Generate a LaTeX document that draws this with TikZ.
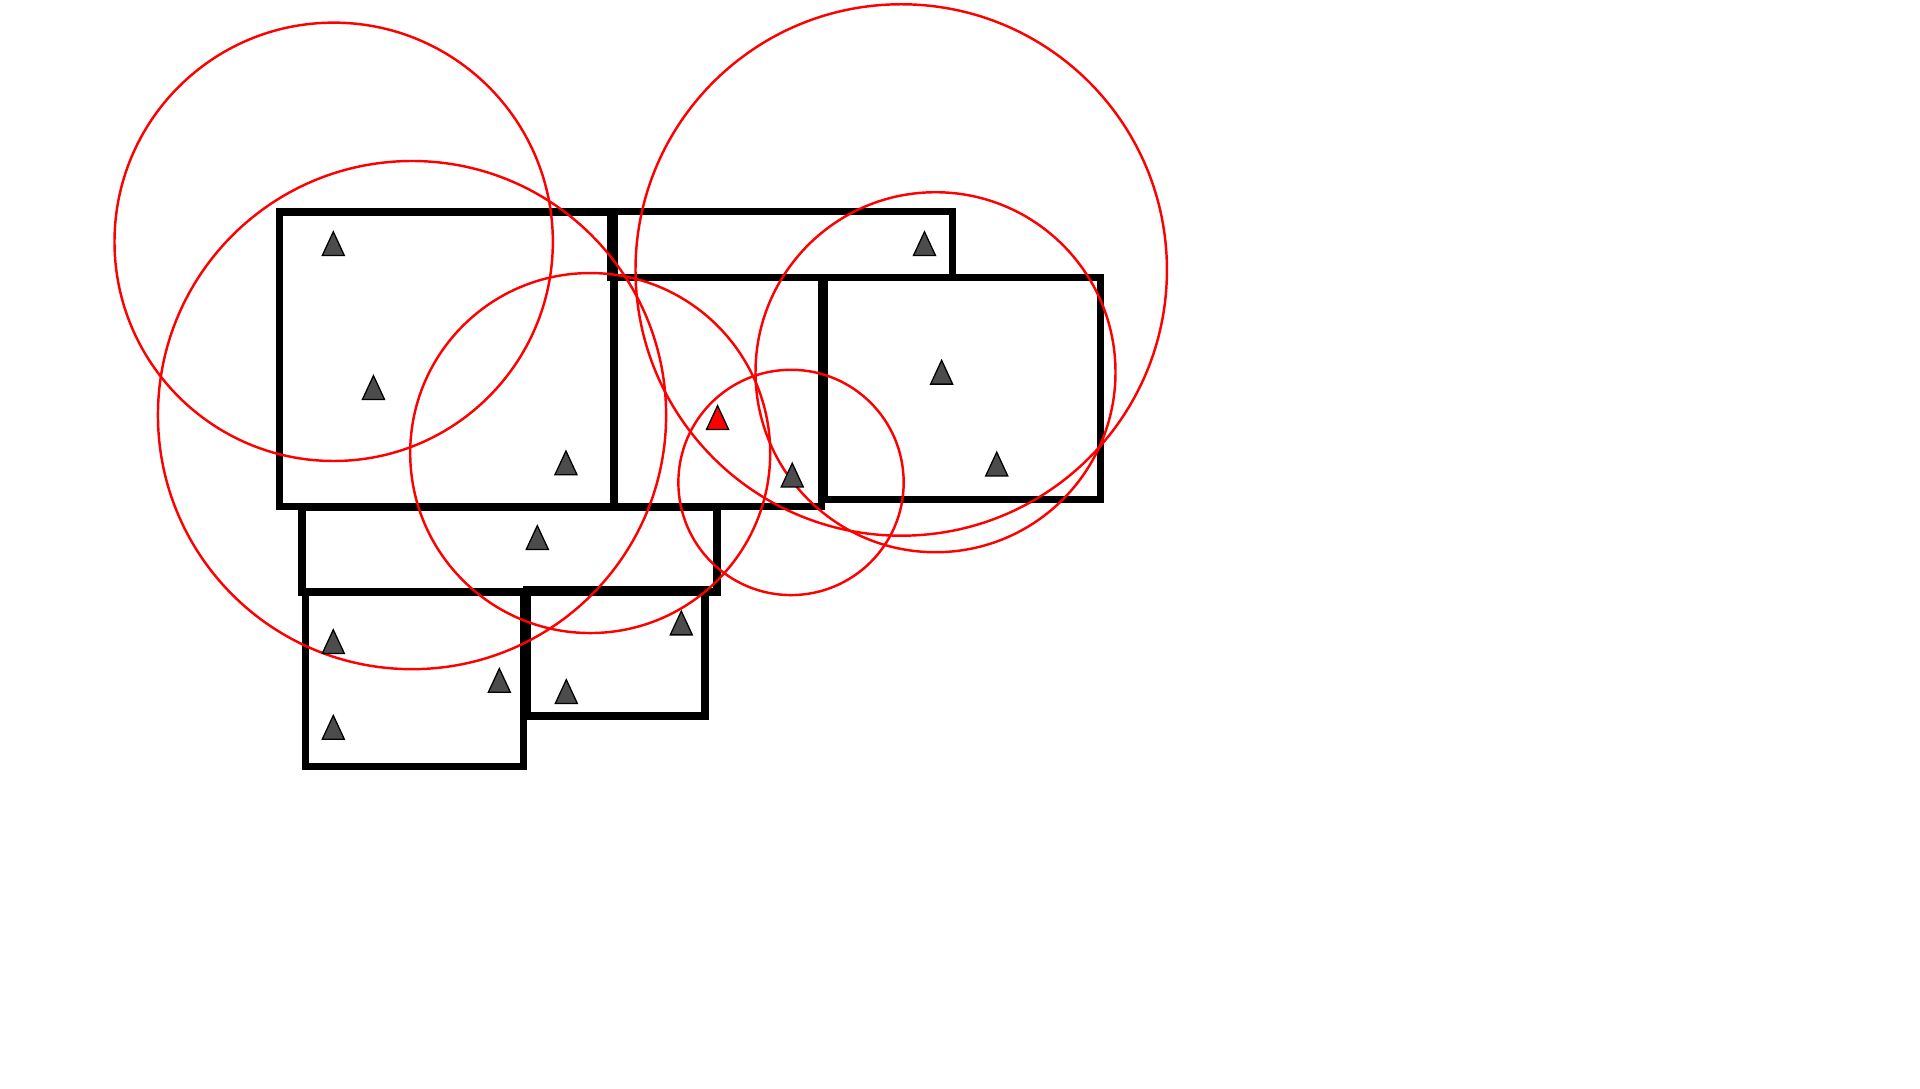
\documentclass[tikz,border=0pt]{standalone}
\begin{document}
\begin{tikzpicture}[x=0.01cm,y=-0.01cm,
  room/.style={draw=black,line width=6*0.01cm,line join=miter},
  rangecirc/.style={draw=red,line width=2*0.01cm},
  sensor/.style={fill=black!70,draw=black,line width=0.3pt},
  active/.style={fill=red,draw=black,line width=0.3pt}]
\useasboundingbox (0,0) rectangle (1568,889);
\def\tri#1#2#3{\path[#1] (#2-9,#3+9.7) -- (#2,#3-9.7) -- (#2+9,#3+9.7) -- cycle;}
% rooms
\draw[room] (228.3,173.1) rectangle (501.4,413.6);
\draw[room] (498.5,172.5) rectangle (778,226.5);
\draw[room] (501.4,226.5) rectangle (671,413.6);
\draw[room] (673,226.5) rectangle (899,408);
\draw[room] (246.7,414) rectangle (585.5,483.4);
\draw[room] (249.5,484) rectangle (427.7,626.1);
\draw[room] (430.4,481.3) rectangle (575.7,584.7);
% ranges
\draw[rangecirc] (272.5,197.5) circle (179);
\draw[rangecirc] (336.5,339) circle (207.5);
\draw[rangecirc] (482,370) circle (147);
\draw[rangecirc] (736,220.5) circle (217);
\draw[rangecirc] (764,304) circle (147);
\draw[rangecirc] (646,394) circle (92);
% sensors
\tri{sensor}{272.2}{199}
\tri{sensor}{305}{316.5}
\tri{sensor}{462.2}{378}
\tri{sensor}{755}{199}
\tri{sensor}{769}{304}
\tri{sensor}{814}{379}
\tri{active}{586}{341}
\tri{sensor}{647}{388}
\tri{sensor}{438.8}{439}
\tri{sensor}{272.2}{524}
\tri{sensor}{407.8}{555.7}
\tri{sensor}{272.2}{594}
\tri{sensor}{556.4}{508.8}
\tri{sensor}{462.5}{564.8}
\end{tikzpicture}
\end{document}
